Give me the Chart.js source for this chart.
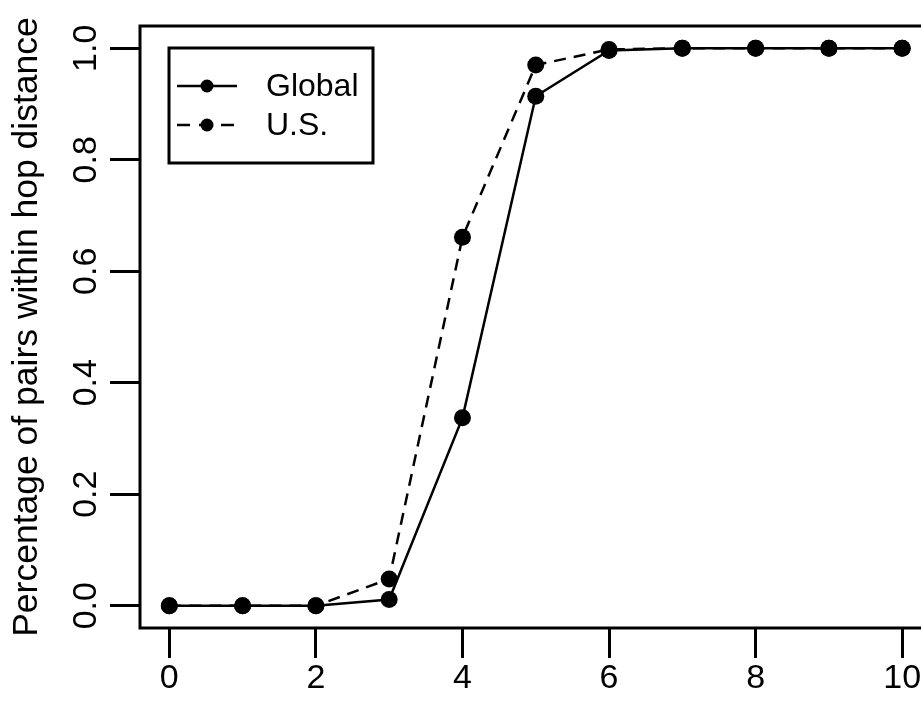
<!DOCTYPE html>
<html>
<head>
<meta charset="utf-8">
<script src="https://cdn.jsdelivr.net/npm/chart.js@4"></script>
<style>
  html, body { margin: 0; padding: 0; background: #fff; overflow: hidden; }
  canvas { display: block; }
</style>
</head>
<body>
<canvas id="hopChart" width="940" height="713"></canvas>
<script>
  // hop distance and cumulative share of pairs
  const hops = [0, 1, 2, 3, 4, 5, 6, 7, 8, 9, 10];
  const globalPct = [0, 0, 0, 0.011, 0.337, 0.914, 0.996, 1, 1, 1, 1];
  const usPct = [0, 0, 0, 0.048, 0.661, 0.970, 0.998, 1, 1, 1, 1];
  const xTicks = [0, 2, 4, 6, 8, 10];
  const yTicks = [0, 0.2, 0.4, 0.6, 0.8, 1.0];

  const fontFamily = '"Liberation Sans", Arial, sans-serif';

  // box round the plot region, like R's box()
  const boxPlugin = {
    id: 'box',
    beforeDatasetsDraw(chart) {
      const a = chart.chartArea;
      const c = chart.ctx;
      c.save();
      c.strokeStyle = '#000';
      c.lineWidth = 3;
      c.strokeRect(a.left, a.top, a.right - a.left, a.bottom - a.top);
      c.restore();
    }
  };

  // R-style legend box in the top left corner
  const legendPlugin = {
    id: 'rLegend',
    afterDraw(chart) {
      const c = chart.ctx;
      const x0 = 169, y0 = 48, w = 204, h = 115;
      c.save();
      c.strokeStyle = '#000';
      c.lineWidth = 3;
      c.strokeRect(x0, y0, w, h);
      chart.data.datasets.forEach((ds, i) => {
        const y = y0 + 38 + i * 39;
        c.beginPath();
        c.setLineDash(ds.borderDash ? [13, 9] : []);
        c.lineWidth = 2.5;
        c.moveTo(x0 + 8, y);
        c.lineTo(x0 + 68, y);
        c.stroke();
        c.setLineDash([]);
        c.beginPath();
        c.arc(x0 + 38, y, 6.5, 0, Math.PI * 2);
        c.fillStyle = '#000';
        c.fill();
        c.font = '32px ' + fontFamily;
        c.textBaseline = 'middle';
        c.fillText(ds.label, x0 + 97, y + 1);
      });
      c.restore();
    }
  };

  const ctx = document.getElementById('hopChart').getContext('2d');
  const hopChart = new Chart(ctx, {
    type: 'line',
    data: {
      datasets: [{
        label: 'Global',
        data: hops.map((h, i) => ({ x: h, y: globalPct[i] })),
        borderColor: '#000',
        backgroundColor: '#000',
        borderWidth: 2.5,
        pointRadius: 8.5,
        pointBorderWidth: 0,
        tension: 0
      }, {
        label: 'U.S.',
        data: hops.map((h, i) => ({ x: h, y: usPct[i] })),
        borderColor: '#000',
        backgroundColor: '#000',
        borderWidth: 2.5,
        borderDash: [12, 8],
        pointRadius: 8.5,
        pointBorderWidth: 0,
        tension: 0
      }]
    },
    options: {
      responsive: false,
      animation: false,
      devicePixelRatio: 1,
      layout: { padding: { top: 26, right: 8, bottom: 0, left: 0 } },
      plugins: {
        legend: { display: false },
        tooltip: { enabled: false }
      },
      scales: {
        x: {
          type: 'linear',
          min: -0.4,
          max: 10.4,
          afterBuildTicks: s => { s.ticks = xTicks.map(v => ({ value: v })); },
          afterFit: s => { s.height = 85; },
          border: { display: false },
          grid: { drawOnChartArea: false, drawTicks: true, tickLength: 30, tickWidth: 3, tickColor: '#000' },
          ticks: {
            color: '#000',
            padding: 0,
            maxRotation: 0,
            font: { family: fontFamily, size: 34 },
            callback: v => String(v)
          }
        },
        y: {
          type: 'linear',
          min: -0.04,
          max: 1.04,
          afterBuildTicks: s => { s.ticks = yTicks.map(v => ({ value: v })); },
          afterFit: s => { s.width = 140; },
          border: { display: false },
          grid: { drawOnChartArea: false, drawTicks: true, tickLength: 30, tickWidth: 3, tickColor: '#000' },
          ticks: {
            color: '#000',
            padding: 0,
            minRotation: 90,
            maxRotation: 90,
            crossAlign: 'center',
            font: { family: fontFamily, size: 34 },
            callback: v => Number(v).toFixed(1)
          },
          title: {
            display: true,
            text: 'Percentage of pairs within hop distance',
            color: '#000',
            padding: { top: 6, bottom: 0 },
            font: { family: fontFamily, size: 35.5 }
          }
        }
      }
    },
    plugins: [boxPlugin, legendPlugin]
  });
</script>
</body>
</html>
